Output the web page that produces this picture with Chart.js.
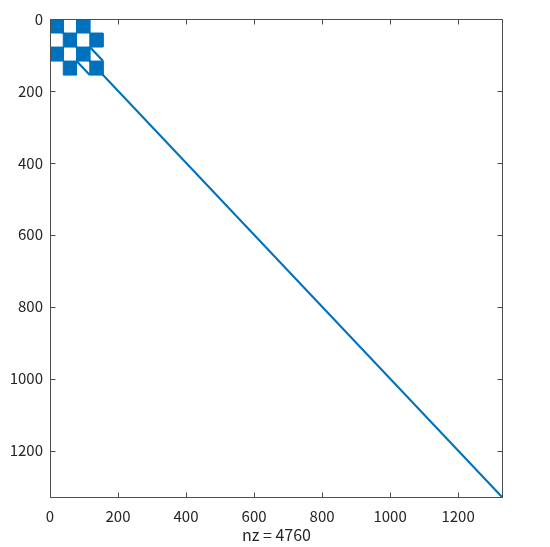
<!DOCTYPE html>
<html lang="ja">
<head>
<meta charset="UTF-8">
<title>spy</title>
<script src="https://cdn.jsdelivr.net/npm/chart.js"></script>
<style>
  body { margin: 0; background: #fff; }
</style>
</head>
<body>
<canvas id="spyChart" width="550" height="547"></canvas>
<script>
// matrix size and nonzero count
const n = 1331;
const nz = 4760;

// dense blocks in the upper-left corner (block index, block size in matrix units)
const blockSize = 39;
const blockRows = [0, 0, 1, 1, 2, 2, 3, 3];
const blockCols = [0, 2, 1, 3, 0, 2, 1, 3];

// diagonal runs of nonzeros: start/end (col,row)
const diagStartCol = [117, 78, 1];
const diagStartRow = [78, 117, 1];
const diagEndCol = [156, 117, n];
const diagEndRow = [117, 156, n];

const xTicks = [0, 200, 400, 600, 800, 1000, 1200];
const yTicks = [0, 200, 400, 600, 800, 1000, 1200];

const blue = '#0072BD';
const axisColor = '#262626';
const font = { family: '"Noto Sans CJK JP", "Noto Sans", sans-serif', size: 15 };

const datasets = [];
blockRows.forEach(function (br, i) {
    const r0 = br * blockSize, r1 = r0 + blockSize;
    const c0 = blockCols[i] * blockSize, c1 = c0 + blockSize;
    datasets.push({
        data: [{x: c0, y: r0}, {x: c1, y: r0}, {x: c1, y: r1}, {x: c0, y: r1}, {x: c0, y: r0}],
        showLine: true,
        borderColor: blue,
        borderWidth: 1,
        backgroundColor: blue,
        fill: 'shape',
        pointRadius: 0
    });
});
diagStartCol.forEach(function (c, i) {
    datasets.push({
        data: [{x: c, y: diagStartRow[i]}, {x: diagEndCol[i], y: diagEndRow[i]}],
        showLine: true,
        borderColor: blue,
        borderWidth: 2.2,
        fill: false,
        pointRadius: 0
    });
});

// MATLAB-style box with inward ticks
const boxTicks = {
    id: 'boxTicks',
    afterDatasetsDraw(chart) {
        const ctx = chart.ctx;
        const a = chart.chartArea;
        const x = chart.scales.x, y = chart.scales.y;
        const len = 5;
        ctx.save();
        ctx.strokeStyle = '#4d4d4d';
        ctx.lineWidth = 1;
        ctx.beginPath();
        const L = Math.round(a.left) + 0.5, R = Math.round(a.right) - 0.5;
        const T = Math.round(a.top) + 0.5, B = Math.round(a.bottom) - 0.5;
        ctx.rect(L, T, R - L, B - T);
        xTicks.forEach(function (v) {
            const px = Math.round(x.getPixelForValue(v)) + 0.5;
            ctx.moveTo(px, B); ctx.lineTo(px, B - len);
            ctx.moveTo(px, T); ctx.lineTo(px, T + len);
        });
        yTicks.forEach(function (v) {
            const py = Math.round(y.getPixelForValue(v)) + 0.5;
            ctx.moveTo(L, py); ctx.lineTo(L + len, py);
            ctx.moveTo(R, py); ctx.lineTo(R - len, py);
        });
        ctx.stroke();
        ctx.restore();
    }
};

new Chart(document.getElementById('spyChart'), {
    type: 'scatter',
    data: { datasets: datasets },
    options: {
        responsive: false,
        animation: false,
        events: [],
        layout: { padding: { top: 19, right: 47, left: 0, bottom: 0 } },
        plugins: { legend: { display: false }, tooltip: { enabled: false } },
        scales: {
            x: {
                type: 'linear',
                min: 0,
                max: n + 1,
                grid: { display: false, drawTicks: false },
                border: { display: false },
                afterBuildTicks: function (s) { s.ticks = xTicks.map(function (v) { return {value: v}; }); },
                afterFit: function (s) { s.height = 49; },
                ticks: {
                    color: axisColor, font: font, padding: 9, maxRotation: 0,
                    callback: function (v) { return String(v); }
                },
                title: { display: true, text: 'nz = ' + nz, color: axisColor, font: { family: font.family, size: 16 }, padding: { top: 0, bottom: 2 } }
            },
            y: {
                type: 'linear',
                reverse: true,
                min: 0,
                max: n + 1,
                grid: { display: false, drawTicks: false },
                border: { display: false },
                afterBuildTicks: function (s) { s.ticks = yTicks.map(function (v) { return {value: v}; }); },
                afterFit: function (s) { s.width = 50; },
                ticks: {
                    color: axisColor, font: font, padding: 7,
                    callback: function (v) { return String(v); }
                }
            }
        }
    },
    plugins: [boxTicks]
});
</script>
</body>
</html>
